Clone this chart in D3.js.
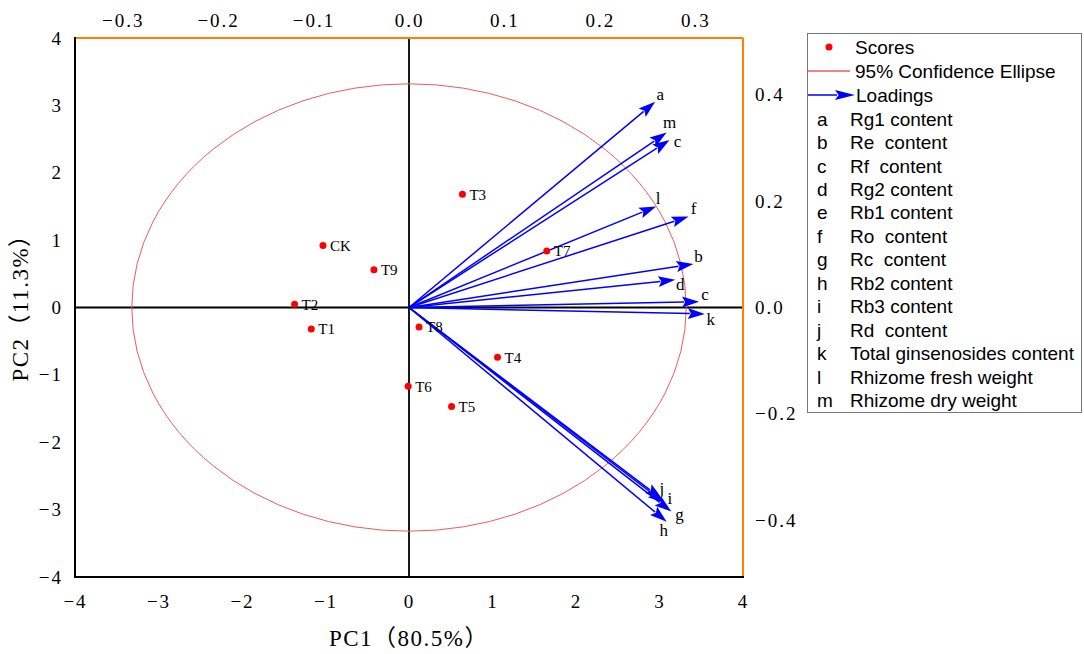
<!DOCTYPE html>
<html>
<head>
<meta charset="utf-8">
<script src="https://cdn.jsdelivr.net/npm/d3@7"></script>
<style>
  html, body { margin: 0; padding: 0; background: #fff; }
  svg { display: block; }
  text { white-space: pre; }
</style>
</head>
<body>
<svg id="chart" width="1084" height="654"></svg>
<script>
// ---------- data ----------
const scoreNames = ["CK", "T1", "T2", "T3", "T4", "T5", "T6", "T7", "T8", "T9"];
const scorePC1   = [-1.03, -1.17, -1.37, 0.64, 1.06, 0.51, -0.01, 1.65, 0.12, -0.42];
const scorePC2   = [0.92, -0.32, 0.05, 1.68, -0.74, -1.47, -1.17, 0.84, -0.29, 0.56];

const loadingLabels = ["a", "m", "c", "l", "f", "b", "d", "c", "k", "j", "i", "g", "h"];
const loadingPC1    = [0.258, 0.270, 0.273, 0.259, 0.293, 0.298, 0.279, 0.304, 0.310, 0.265, 0.268, 0.275, 0.270];
const loadingPC2    = [0.387, 0.329, 0.315, 0.190, 0.171, 0.082, 0.052, 0.011, -0.012, -0.360, -0.368, -0.384, -0.403];

const ellipseCenter = [0, 0];
const ellipseRadii  = [3.32, 3.32];

const scoreTicks   = [-4, -3, -2, -1, 0, 1, 2, 3, 4];
const loadingXTicks = [-0.3, -0.2, -0.1, 0.0, 0.1, 0.2, 0.3];
const loadingYTicks = [-0.4, -0.2, 0.0, 0.2, 0.4];

const legendCodes = ["a", "b", "c", "d", "e", "f", "g", "h", "i", "j", "k", "l", "m"];
const legendNames = ["Rg1 content", "Re  content", "Rf  content", "Rg2 content", "Rb1 content",
  "Ro  content", "Rc  content", "Rb2 content", "Rb3 content", "Rd  content",
  "Total ginsenosides content", "Rhizome fresh weight", "Rhizome dry weight"];

const xTitle = "PC1\uFF0880.5%\uFF09";
const yTitle = "PC2\uFF0811.3%\uFF09";

// ---------- layout / style ----------
const L = 75, R = 743, T = 38, B = 577;
const serif = "'Liberation Serif', 'DejaVu Serif', 'Noto Sans CJK SC', serif";
const sans = "'Liberation Sans', Arial, sans-serif";
const blue = "#0000ff", red = "#ff0000", ellCol = "#ee5a5a", orange = "#ff8000";
// label nudges (pixel offsets relative to arrow tip) per arrow index
const labelNudge = [[5,-8],[3,-11],[8,1],[2,-8],[5,-9],[5,-8],[5,4],[6,-8],[6,5],[0,-11],[5,-5],[8,2],[-3,8]];

const svg = d3.select("#chart");

const x = d3.scaleLinear().domain([-4, 4]).range([L, R]);
const y = d3.scaleLinear().domain([-4, 4]).range([B, T]);
const xL = d3.scaleLinear().domain([-0.35, 0.35]).range([L, R]);
const yL = d3.scaleLinear().domain([-0.507, 0.507]).range([B, T]);

const fmtInt = d3.format("d");
const fmt1 = d3.format(".1f");

function styleAxis(g) {
  g.select(".domain").remove();
  g.selectAll(".tick line").remove();
  g.selectAll("text").attr("font-family", serif).attr("font-size", 19).attr("fill", "#000").attr("letter-spacing", "2px");
}

svg.append("g").attr("transform", `translate(0,${B})`)
  .call(d3.axisBottom(x).tickValues(scoreTicks).tickFormat(fmtInt).tickSize(0).tickPadding(18))
  .call(styleAxis);
svg.append("g").attr("transform", `translate(${L},0)`)
  .call(d3.axisLeft(y).tickValues(scoreTicks).tickFormat(fmtInt).tickSize(0).tickPadding(12))
  .call(styleAxis);
svg.append("g").attr("transform", `translate(0,${T})`)
  .call(d3.axisTop(xL).tickValues(loadingXTicks).tickFormat(fmt1).tickSize(0).tickPadding(11))
  .call(styleAxis);
svg.append("g").attr("transform", `translate(${R},0)`)
  .call(d3.axisRight(yL).tickValues(loadingYTicks).tickFormat(fmt1).tickSize(0).tickPadding(12))
  .call(styleAxis);

// zero lines
svg.append("line").attr("x1", L).attr("x2", R).attr("y1", y(0)).attr("y2", y(0)).attr("stroke", "#000").attr("stroke-width", 1.8);
svg.append("line").attr("x1", x(0)).attr("x2", x(0)).attr("y1", T).attr("y2", B).attr("stroke", "#000").attr("stroke-width", 1.8);

// frame
svg.append("line").attr("x1", L).attr("x2", R).attr("y1", T).attr("y2", T).attr("stroke", orange).attr("stroke-width", 2);
svg.append("line").attr("x1", R).attr("x2", R).attr("y1", T).attr("y2", B).attr("stroke", orange).attr("stroke-width", 2);
svg.append("line").attr("x1", L).attr("x2", L).attr("y1", T - 1).attr("y2", B + 1).attr("stroke", "#000").attr("stroke-width", 2);
svg.append("line").attr("x1", L).attr("x2", R + 1).attr("y1", B).attr("y2", B).attr("stroke", "#000").attr("stroke-width", 2);

// ellipse
svg.append("ellipse")
  .attr("cx", x(ellipseCenter[0])).attr("cy", y(ellipseCenter[1]))
  .attr("rx", x(ellipseCenter[0] + ellipseRadii[0]) - x(ellipseCenter[0]))
  .attr("ry", y(ellipseCenter[1]) - y(ellipseCenter[1] + ellipseRadii[1]))
  .attr("fill", "none").attr("stroke", ellCol).attr("stroke-width", 1);

// arrows
function arrow(g, x0, y0, x1, y1, headLen, headHalf, sw) {
  const dx = x1 - x0, dy = y1 - y0, len = Math.hypot(dx, dy);
  const ux = dx / len, uy = dy / len;
  const bx = x1 - ux * headLen, by = y1 - uy * headLen;
  g.append("line").attr("x1", x0).attr("y1", y0).attr("x2", bx + ux * 2).attr("y2", by + uy * 2)
    .attr("stroke", blue).attr("stroke-width", sw);
  const nx = -uy, ny = ux;
  const notchX = x1 - ux * headLen * 0.82, notchY = y1 - uy * headLen * 0.82;
  g.append("path")
    .attr("d", `M${x1},${y1}L${bx + nx * headHalf},${by + ny * headHalf}L${notchX},${notchY}L${bx - nx * headHalf},${by - ny * headHalf}Z`)
    .attr("fill", blue);
}

const ag = svg.append("g");
const ox = xL(0), oy = yL(0);
loadingLabels.forEach((lab, i) => {
  const tx = xL(loadingPC1[i]), ty = yL(loadingPC2[i]);
  arrow(ag, ox, oy, tx, ty, 17, 5.5, 1.5);
  ag.append("text")
    .attr("x", tx + labelNudge[i][0]).attr("y", ty + labelNudge[i][1])
    .attr("text-anchor", "middle").attr("dy", "0.35em")
    .attr("font-family", serif).attr("font-size", 17).attr("fill", "#000")
    .text(lab);
});

// scores
const sg = svg.append("g");
scoreNames.forEach((n, i) => {
  const px = x(scorePC1[i]), py = y(scorePC2[i]);
  sg.append("circle").attr("cx", px).attr("cy", py).attr("r", 3.5).attr("fill", red);
  sg.append("text").attr("x", px + 7).attr("y", py).attr("dy", "0.36em")
    .attr("font-family", serif).attr("font-size", 15).attr("fill", "#000").text(n);
});

// axis titles
svg.append("text").attr("x", x(0)).attr("y", 646).attr("text-anchor", "middle")
  .attr("font-family", serif).attr("font-size", 23).attr("letter-spacing", "1.5px").text(xTitle);
svg.append("text").attr("transform", `translate(28,${302}) rotate(-90)`).attr("text-anchor", "middle")
  .attr("font-family", serif).attr("font-size", 23).attr("letter-spacing", "1.5px").text(yTitle);

// legend
const lfs = 19;
const lg = svg.append("g");
lg.append("rect").attr("x", 807.5).attr("y", 33.5).attr("width", 274).attr("height", 379)
  .attr("fill", "#fff").attr("stroke", "#777").attr("stroke-width", 1);
lg.append("circle").attr("cx", 829).attr("cy", 47).attr("r", 3.5).attr("fill", red);
lg.append("text").attr("x", 855).attr("y", 47).attr("dy", "0.35em").attr("font-family", sans).attr("font-size", lfs).text("Scores");
lg.append("line").attr("x1", 808).attr("x2", 850).attr("y1", 71).attr("y2", 71).attr("stroke", ellCol).attr("stroke-width", 1.5);
lg.append("text").attr("x", 855).attr("y", 71).attr("dy", "0.35em").attr("font-family", sans).attr("font-size", lfs).text("95% Confidence Ellipse");
arrow(lg, 808, 95, 855, 95, 20, 5, 1.5);
lg.append("text").attr("x", 856).attr("y", 95).attr("dy", "0.35em").attr("font-family", sans).attr("font-size", lfs).text("Loadings");
legendCodes.forEach((c, i) => {
  const yy = 119 + i * 23.45;
  lg.append("text").attr("x", 817).attr("y", yy).attr("dy", "0.35em").attr("font-family", sans).attr("font-size", lfs).text(c);
  lg.append("text").attr("x", 850).attr("y", yy).attr("dy", "0.35em").attr("font-family", sans).attr("font-size", lfs).text(legendNames[i]);
});
</script>
</body>
</html>
